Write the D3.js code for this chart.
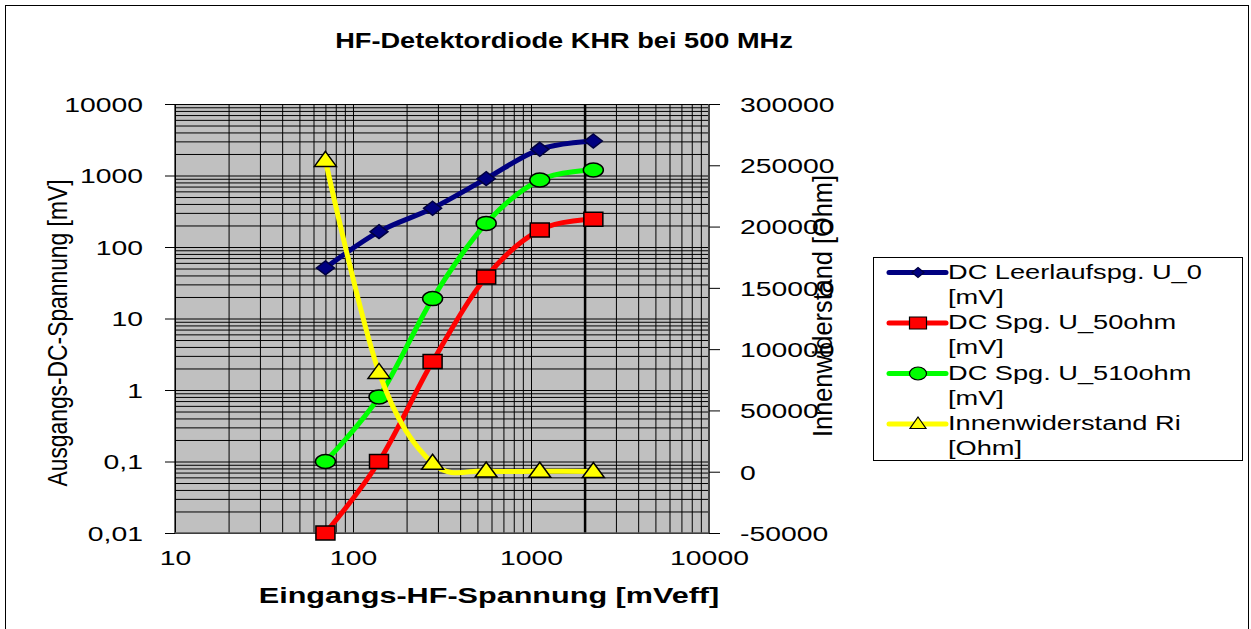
<!DOCTYPE html>
<html><head><meta charset="utf-8">
<script src="https://cdn.jsdelivr.net/npm/d3@7"></script>
<style>
body{margin:0;background:#fff}
svg{display:block}
text{font-family:"Liberation Sans",Arial,Helvetica,sans-serif;fill:#000}
</style>
</head><body>
<svg id="chart" width="1251" height="629"></svg>
<script>
// ---- data ----
const xValues    = [70, 140, 280, 560, 1120, 2240];
const seriesU0   = [51, 164, 348, 903, 2325, 3040];
const seriesU50  = [0.01, 0.1, 2.5, 38, 173, 244];
const seriesU510 = [0.1, 0.8, 19, 214, 866, 1194];
const seriesRi   = [254000, 81000, 6900, 600, 400, 200];
const seriesNames = [
  ["DC Leerlaufspg. U_0", "[mV]"],
  ["DC Spg. U_50ohm", "[mV]"],
  ["DC Spg. U_510ohm", "[mV]"],
  ["Innenwiderstand Ri", "[Ohm]"]
];
const xTickValues  = [10, 100, 1000, 10000];
const xTickLabels  = ["10", "100", "1000", "10000"];
const yTickValues  = [0.01, 0.1, 1, 10, 100, 1000, 10000];
const yTickLabels  = ["0,01", "0,1", "1", "10", "100", "1000", "10000"];
const y2TickValues = [-50000, 0, 50000, 100000, 150000, 200000, 250000, 300000];
const y2TickLabels = ["-50000", "0", "50000", "100000", "150000", "200000", "250000", "300000"];

// ---- layout ----
const SX = 1.35;
const L = 175, R = 709, T = 104, B = 533;
const svg = d3.select("#chart");
svg.append("rect").attr("x",0).attr("y",0).attr("width",1251).attr("height",629).attr("fill","#fff");
svg.append("rect").attr("x",5.5).attr("y",5.5).attr("width",1243).attr("height",640)
  .attr("fill","none").attr("stroke","#000").attr("stroke-width",1);

const x  = d3.scaleLog().domain([10, 10000]).range([L, R]);
const y  = d3.scaleLog().domain([0.01, 10000]).range([B, T]);
const y2 = d3.scaleLinear().domain([-50000, 300000]).range([B, T]);

// plot background
svg.append("rect").attr("x",L).attr("y",T).attr("width",R-L).attr("height",B-T).attr("fill","#c0c0c0");

// grid
const gx = svg.append("g").attr("transform",`translate(0,${B})`)
  .call(d3.axisBottom(x).tickValues(x.ticks()).tickSize(-(B-T)).tickFormat(""));
gx.select(".domain").remove();
gx.selectAll("line").attr("stroke","#000").attr("stroke-width",d => d===2000 ? 2.5 : 1);
const gy = svg.append("g").attr("transform",`translate(${L},0)`)
  .call(d3.axisRight(y).tickValues(y.ticks()).tickSize(R-L).tickFormat(""));
gy.select(".domain").remove();
gy.selectAll("line").attr("stroke","#000").attr("stroke-width",1);

// axis lines
svg.append("line").attr("x1",L).attr("x2",L).attr("y1",T).attr("y2",B).attr("stroke","#000").attr("stroke-width",1.2);
svg.append("line").attr("x1",L).attr("x2",R).attr("y1",B).attr("y2",B).attr("stroke","#555").attr("stroke-width",1.5);
svg.append("line").attr("x1",R).attr("x2",R).attr("y1",T).attr("y2",B).attr("stroke","#444").attr("stroke-width",2);

// left axis
const ay = svg.append("g").attr("transform",`translate(${L},0)`)
  .call(d3.axisLeft(y).tickValues(yTickValues).tickSize(10).tickFormat((d,i)=>yTickLabels[i]));
ay.select(".domain").remove();
ay.selectAll("line").attr("stroke","#000");
ay.selectAll("text").attr("x",0).attr("dy","0.35em").attr("font-size",21).attr("fill","#000")
  .attr("transform",`translate(-32,0) scale(${SX},1)`);

// right axis
const ay2 = svg.append("g").attr("transform",`translate(${R},0)`)
  .call(d3.axisRight(y2).tickValues(y2TickValues).tickSize(11).tickFormat((d,i)=>y2TickLabels[i]));
ay2.select(".domain").remove();
ay2.selectAll("line").attr("stroke","#000");
ay2.selectAll("text").attr("x",0).attr("dy","0.35em").attr("font-size",21).attr("fill","#000")
  .attr("transform",`translate(31,0) scale(${SX},1)`);

// bottom axis
const ax = svg.append("g").attr("transform",`translate(0,${B})`)
  .call(d3.axisBottom(x).tickValues(xTickValues).tickSize(0).tickFormat((d,i)=>xTickLabels[i]));
ax.select(".domain").remove();
ax.selectAll("text").attr("y",0).attr("dy",0).attr("font-size",21).attr("fill","#000")
  .attr("transform",`translate(0,32) scale(${SX},1)`);

// titles
svg.append("text").attr("text-anchor","middle").attr("font-size",21.5).attr("font-weight","bold")
  .attr("transform",`translate(564,48) scale(1.265,1)`).text("HF-Detektordiode KHR bei 500 MHz");
svg.append("text").attr("text-anchor","middle").attr("font-size",22.5).attr("font-weight","bold")
  .attr("transform",`translate(489,603) scale(1.36,1)`).text("Eingangs-HF-Spannung [mVeff]");
svg.append("text").attr("text-anchor","middle").attr("font-size",22)
  .attr("textLength",307).attr("lengthAdjust","spacingAndGlyphs")
  .attr("transform",`translate(67,333) scale(1.25,1) rotate(-90)`).text("Ausgangs-DC-Spannung [mV]");
svg.append("text").attr("text-anchor","middle").attr("font-size",22)
  .attr("textLength",262).attr("lengthAdjust","spacingAndGlyphs")
  .attr("transform",`translate(832,306) scale(1.25,1) rotate(-90)`).text("Innenwiderstand [Ohm]");

// series
const curve = d3.curveCatmullRom.alpha(0);
const markerPaths = {
  diamond: "M0,-7L9,0L0,7L-9,0Z",
  square: "M-9.5,-7H9.5V7H-9.5Z",
  circle: "M-10,0A10,7 0 1,0 10,0A10,7 0 1,0 -10,0Z",
  triangle: "M0,-9L11,6H-11Z"
};
const legendMarkers = {
  diamond: "M0,-5L6,0L0,5L-6,0Z",
  square: "M-8.5,-6H8.5V6H-8.5Z",
  circle: "M-8.5,0A8.5,6.5 0 1,0 8.5,0A8.5,6.5 0 1,0 -8.5,0Z",
  triangle: "M0,-7L8,4.5H-8Z"
};
const series = [
  {vals: seriesU0,   scale: y,  color:"#000080", marker:"diamond",  mfill:"#000080", mstroke:"#000040"},
  {vals: seriesU50,  scale: y,  color:"#ff0000", marker:"square",   mfill:"#ff0000", mstroke:"#000"},
  {vals: seriesU510, scale: y,  color:"#00ff00", marker:"circle",   mfill:"#00ff00", mstroke:"#000"},
  {vals: seriesRi,   scale: y2, color:"#ffff00", marker:"triangle", mfill:"#ffff00", mstroke:"#000"}
];
series.forEach(s => {
  const pts = xValues.map((xv,i) => [x(xv), s.scale(s.vals[i])]);
  svg.append("path").attr("d", d3.line().curve(curve)(pts))
    .attr("fill","none").attr("stroke",s.color).attr("stroke-width",5).attr("stroke-linejoin","round");
  svg.append("g").selectAll("path").data(pts).join("path")
    .attr("d", markerPaths[s.marker])
    .attr("transform", p => `translate(${p[0]},${p[1]})`)
    .attr("fill", s.mfill).attr("stroke", s.mstroke).attr("stroke-width",1.5);
});

// legend
const lg = svg.append("g");
lg.append("rect").attr("x",873.5).attr("y",257.5).attr("width",369).attr("height",203)
  .attr("fill","#fff").attr("stroke","#000").attr("stroke-width",1);
series.forEach((s,i) => {
  const ly = 272.5 + i*50.5;
  lg.append("line").attr("x1",889).attr("x2",946).attr("y1",ly).attr("y2",ly)
    .attr("stroke",s.color).attr("stroke-width",5).attr("stroke-linecap","round");
  lg.append("path").attr("d",legendMarkers[s.marker]).attr("transform",`translate(918,${ly})`)
    .attr("fill",s.mfill).attr("stroke",s.mstroke).attr("stroke-width",1.2);
  seriesNames[i].forEach((t,j) => {
    lg.append("text").attr("font-size",20)
      .attr("transform",`translate(948,${ly + 6 + j*25}) scale(1.36,1)`).text(t);
  });
});
</script>
</body></html>
